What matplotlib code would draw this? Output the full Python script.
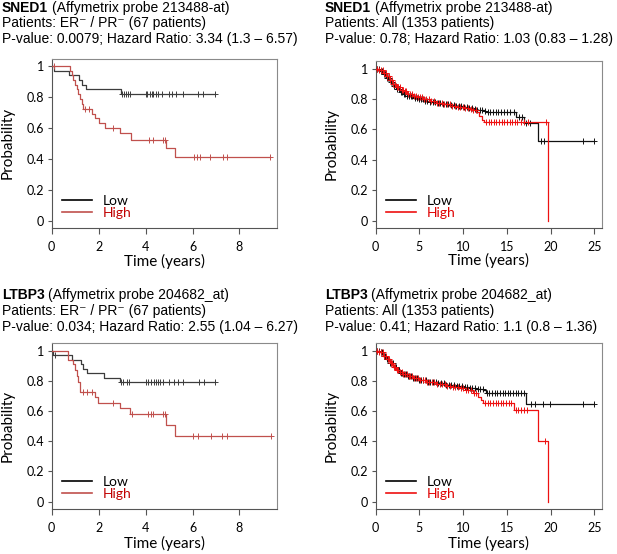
import numpy as np
import matplotlib
matplotlib.use('Agg')
import matplotlib.pyplot as plt
from matplotlib.lines import Line2D

# ---------------- data ----------------
# Panel A: SNED1, ER-/PR- (67 patients)
a_low_t = [0, 0.08, 0.75, 1.15, 1.30, 1.45, 2.96]
a_low_s = [1.0, 0.97, 0.94, 0.91, 0.88, 0.85, 0.82]
a_low_end = 6.97
a_low_cens = [2.99, 3.09, 3.18, 3.27, 3.35, 4.02, 4.08, 4.19, 4.26, 4.33, 4.45,
              4.55, 4.69, 5.01, 5.14, 5.30, 5.61, 6.25, 6.44, 6.97]
a_high_t = [0, 0.78, 0.85, 0.92, 0.99, 1.07, 1.13, 1.21, 1.28, 1.35, 1.71, 1.85,
            2.03, 2.27, 2.91, 3.37, 4.86, 5.26]
a_high_s = [1.0, 0.97, 0.94, 0.91, 0.88, 0.85, 0.82, 0.79, 0.755, 0.72, 0.69, 0.665,
            0.635, 0.60, 0.57, 0.525, 0.47, 0.41]
a_high_end = 9.31
a_high_cens = [0.10, 1.42, 1.60, 2.63, 4.16, 4.33, 4.76, 4.83, 6.08, 6.21, 6.32,
               6.75, 7.29, 7.46, 9.31]

# Panel B: SNED1, all (1353 patients)
b_low_t = [0, 0.4, 0.84, 1.2, 1.6, 2.0, 2.36, 2.8, 3.12, 3.6, 4.27, 4.8, 5.41, 6.2,
           6.93, 7.7, 8.46, 9.2, 9.98, 10.6, 11.1, 11.6, 12.08, 12.4, 12.6, 16.08,
           16.9, 18.57]
b_low_s = [1.0, 0.985, 0.963, 0.94, 0.91, 0.885, 0.865, 0.848, 0.835, 0.822, 0.808,
           0.798, 0.79, 0.782, 0.775, 0.768, 0.762, 0.755, 0.748, 0.742, 0.736,
           0.731, 0.726, 0.72, 0.712, 0.68, 0.64, 0.525]
b_low_end = 25.0
b_low_cens = [0.15, 0.35, 0.55, 0.7, 0.9, 1.05, 1.25, 1.4, 1.55, 1.75, 1.9, 2.1,
              2.3, 2.45, 2.65, 2.85, 3.0, 3.2, 3.4, 3.6, 3.8, 4.0, 4.2, 4.45, 4.7,
              4.9, 5.15, 5.4, 5.65, 5.9, 6.2, 6.5, 6.8, 7.1, 7.4, 7.7, 8.0, 8.3,
              8.6, 8.9, 9.2, 9.5, 9.8, 10.1, 10.4, 10.7, 11.0, 11.3, 11.6, 11.9,
              12.2, 12.5, 12.8, 13.1, 13.4, 13.7, 14.0, 14.3, 14.7, 15.0, 15.4,
              15.8, 16.4, 16.7, 17.2, 17.6, 18.9, 19.2, 23.7, 25.0]
b_high_t = [0, 0.4, 0.84, 1.2, 1.6, 2.0, 2.36, 2.8, 3.12, 3.6, 4.27, 4.8, 5.41, 6.2,
            6.93, 7.7, 8.46, 9.2, 9.98, 10.6, 11.1, 11.5, 11.8, 12.1, 12.4, 19.65]
b_high_s = [1.0, 0.99, 0.97, 0.95, 0.925, 0.90, 0.88, 0.862, 0.85, 0.835, 0.82,
            0.812, 0.80, 0.788, 0.776, 0.765, 0.756, 0.75, 0.742, 0.735, 0.727,
            0.713, 0.69, 0.665, 0.648, 0.0]
b_high_cens = [0.2, 0.4, 0.6, 0.8, 0.95, 1.15, 1.3, 1.5, 1.65, 1.85, 2.0, 2.2, 2.4,
               2.55, 2.75, 2.95, 3.1, 3.3, 3.5, 3.7, 3.9, 4.1, 4.35, 4.6, 4.8,
               5.05, 5.3, 5.55, 5.8, 6.05, 6.35, 6.65, 6.95, 7.25, 7.55, 7.85,
               8.15, 8.45, 8.75, 9.05, 9.35, 9.65, 9.95, 10.25, 10.55, 10.85, 11.15,
               11.45, 12.6, 12.9, 13.2, 13.5, 13.8, 14.1, 14.4, 14.7, 15.0, 15.3,
               15.6, 15.9, 16.2, 16.6, 17.0, 17.4, 19.5]

# Panel C: LTBP3, ER-/PR- (67 patients)
c_low_t = [0, 0.07, 0.85, 1.25, 1.32, 1.49, 2.23, 2.89]
c_low_s = [1.0, 0.97, 0.94, 0.91, 0.88, 0.85, 0.82, 0.79]
c_low_end = 6.97
c_low_cens = [0.15, 2.94, 3.05, 3.20, 3.31, 4.01, 4.12, 4.22, 4.34, 4.43, 4.52,
              4.62, 4.73, 4.98, 5.19, 5.37, 5.61, 6.28, 6.47, 6.97]
c_high_t = [0, 0.71, 0.92, 1.00, 1.07, 1.13, 1.20, 1.85, 1.99, 2.91, 3.34, 4.86, 5.26]
c_high_s = [1.0, 0.94, 0.91, 0.87, 0.83, 0.79, 0.725, 0.69, 0.655, 0.62, 0.58,
            0.51, 0.435]
c_high_end = 9.34
c_high_cens = [1.35, 1.49, 1.71, 2.63, 3.41, 4.12, 4.22, 4.31, 4.76, 4.83, 6.04,
               6.25, 6.78, 7.25, 7.46, 9.34]

# Panel D: LTBP3, all (1353 patients)
d_low_t = [0, 0.4, 0.84, 1.2, 1.6, 2.0, 2.36, 2.8, 3.12, 3.6, 4.27, 5.0, 5.8, 6.93,
           8.0, 9.2, 10.0, 10.7, 11.5, 12.3, 12.6, 17.15]
d_low_s = [1.0, 0.988, 0.966, 0.945, 0.915, 0.89, 0.87, 0.853, 0.843, 0.832, 0.818,
           0.807, 0.795, 0.783, 0.773, 0.764, 0.758, 0.753, 0.745, 0.736, 0.716,
           0.644]
d_low_end = 25.0
d_low_cens = [0.15, 0.35, 0.55, 0.75, 0.9, 1.1, 1.25, 1.45, 1.6, 1.8, 1.95, 2.15,
              2.35, 2.5, 2.7, 2.9, 3.05, 3.25, 3.45, 3.65, 3.85, 4.05, 4.3, 4.5,
              4.75, 5.0, 5.2, 5.45, 5.7, 5.95, 6.25, 6.55, 6.85, 7.15, 7.45, 7.75,
              8.05, 8.35, 8.65, 8.95, 9.25, 9.55, 9.85, 10.15, 10.45, 10.75, 11.05,
              11.35, 11.65, 11.95, 12.25, 12.7, 13.0, 13.3, 13.6, 13.9, 14.2, 14.5,
              14.8, 15.1, 15.4, 15.7, 16.0, 16.3, 16.6, 16.9, 17.8, 18.2, 19.1,
              19.9, 23.7, 25.0]
d_high_t = [0, 0.4, 0.84, 1.2, 1.6, 2.0, 2.36, 2.8, 3.12, 3.6, 4.27, 5.0, 5.8, 6.93,
            8.0, 8.8, 9.5, 10.3, 11.1, 11.7, 12.0, 12.3, 15.8, 18.55, 19.65]
d_high_s = [1.0, 0.99, 0.967, 0.946, 0.918, 0.893, 0.873, 0.857, 0.845, 0.834, 0.82,
            0.806, 0.792, 0.778, 0.766, 0.758, 0.75, 0.738, 0.717, 0.695, 0.67,
            0.65, 0.61, 0.40, 0.0]
d_high_cens = [0.2, 0.4, 0.6, 0.8, 1.0, 1.15, 1.35, 1.5, 1.7, 1.85, 2.05, 2.25, 2.4,
               2.6, 2.8, 3.0, 3.15, 3.35, 3.55, 3.75, 3.95, 4.15, 4.4, 4.6, 4.85,
               5.1, 5.35, 5.6, 5.85, 6.1, 6.4, 6.7, 7.0, 7.3, 7.6, 7.9, 8.2, 8.5,
               8.8, 9.1, 9.4, 9.7, 10.0, 10.3, 10.6, 10.9, 11.2, 11.5, 12.5, 12.8,
               13.1, 13.4, 13.7, 14.0, 14.3, 14.6, 14.9, 15.2, 15.5, 16.0, 16.3,
               16.6, 17.0, 17.3, 19.3]

titles_gene = ['SNED1', 'SNED1', 'LTBP3', 'LTBP3']
titles_probe = ['(Affymetrix probe 213488-at)', '(Affymetrix probe 213488-at)',
                '(Affymetrix probe 204682_at)', '(Affymetrix probe 204682_at)']
titles_patients = ['Patients: ER\u207b / PR\u207b (67 patients)', 'Patients: All (1353 patients)',
                   'Patients: ER\u207b / PR\u207b (67 patients)', 'Patients: All (1353 patients)']
titles_stats = ['P-value: 0.0079; Hazard Ratio: 3.34 (1.3 \u2013 6.57)',
                'P-value: 0.78; Hazard Ratio: 1.03 (0.83 \u2013 1.28)',
                'P-value: 0.034; Hazard Ratio: 2.55 (1.04 \u2013 6.27)',
                'P-value: 0.41; Hazard Ratio: 1.1 (0.8 \u2013 1.36)']
legend_labels = ['Low', 'High']

# ---------------- drawing ----------------
W, H = 617, 554
fig = plt.figure(figsize=(W / 100, H / 100), dpi=100)

TFONT = ['Liberation Sans', 'DejaVu Sans']
AFONT = ['Lato', 'DejaVu Sans']
TSIZE = 10.0


def step_value(t_ev, s_ev, t):
    idx = np.searchsorted(np.asarray(t_ev), np.asarray(t), side='right') - 1
    return np.asarray(s_ev)[idx]


def draw_km(ax, t_ev, s_ev, end, cens, color, lw=0.9, ms=4.5):
    t = list(t_ev) + ([end] if end is not None else [])
    s = list(s_ev) + ([s_ev[-1]] if end is not None else [])
    ax.plot(t, s, drawstyle='steps-post', color=color, lw=lw, zorder=3)
    cy = step_value(t_ev, s_ev, cens)
    ax.plot(cens, cy, ls='none', marker='+', color=color, ms=ms, mew=0.7, zorder=3)


def px_axes(left, right, top, bottom):
    return fig.add_axes([left / W, 1 - bottom / H, (right - left) / W, (bottom - top) / H])


def setup(ax, xmax, xticks, low_col, high_col, legend_text_col, ylab_x, xlab_y):
    ax.set_xlim(0, xmax)
    ax.set_ylim(-0.045, 1.05)
    ax.set_xticks(xticks)
    ax.set_xticklabels([str(v) for v in xticks], family=AFONT, fontsize=9)
    ax.set_yticks([0, 0.2, 0.4, 0.6, 0.8, 1.0])
    ax.set_yticklabels(['0', '0.2', '0.4', '0.6', '0.8', '1'], family=AFONT, fontsize=9)
    for name, sp in ax.spines.items():
        sp.set_linewidth(0.8)
        sp.set_color('#8a8a8a' if name in ('top', 'right') else '#555555')
    ax.tick_params(axis='both', direction='out', length=3, width=0.8,
                   color='#555555', pad=2.5)
    ax.tick_params(axis='x', length=4, pad=6)
    ax.set_xlabel('Time (years)', family=AFONT, fontsize=11)
    ax.set_ylabel('Probability', family=AFONT, fontsize=11)
    ax.yaxis.set_label_coords(ylab_x, 0.5)
    ax.xaxis.set_label_coords(0.5, xlab_y)
    handles = [Line2D([], [], color=low_col, lw=1.2), Line2D([], [], color=high_col, lw=1.2)]
    ax.legend(handles, legend_labels, loc='lower left', bbox_to_anchor=(0.045, 0.05),
              frameon=False, prop={'family': AFONT, 'size': 10}, handlelength=2.15,
              handletextpad=0.8, labelspacing=0.0, borderaxespad=0, borderpad=0,
              labelcolor=['black', legend_text_col])


renderer = fig.canvas.get_renderer()


def title_block(x, ys, i):
    t1 = fig.text(x / W, 1 - ys[0] / H, titles_gene[i], fontweight='bold',
                  family=TFONT, fontsize=TSIZE, va='center', ha='left')
    bb = t1.get_window_extent(renderer=renderer)
    fig.text((bb.x1 + 3.5) / W, 1 - ys[0] / H, titles_probe[i], family=TFONT,
             fontsize=TSIZE, va='center', ha='left')
    fig.text(x / W, 1 - ys[1] / H, titles_patients[i], family=TFONT, fontsize=TSIZE,
             va='center', ha='left')
    fig.text(x / W, 1 - ys[2] / H, titles_stats[i], family=TFONT, fontsize=TSIZE,
             va='center', ha='left')


dark_red = '#c0504d'
bright_red = '#ee1111'

# Panel A
axA = px_axes(51.7, 277, 58.5, 227.5)
draw_km(axA, a_low_t, a_low_s, a_low_end, a_low_cens, '#3c3c3c')
draw_km(axA, a_high_t, a_high_s, a_high_end, a_high_cens, dark_red)
setup(axA, 9.6, [0, 2, 4, 6, 8], 'black', dark_red, '#c00000', -0.165, -0.155)

# Panel B
axB = px_axes(375.7, 602.3, 61, 227.5)
draw_km(axB, b_low_t, b_low_s, b_low_end, b_low_cens, '#111111')
draw_km(axB, b_high_t, b_high_s, None, b_high_cens, bright_red)
setup(axB, 25.9, [0, 5, 10, 15, 20, 25], 'black', bright_red, '#e00000', -0.165, -0.155)

# Panel C
axC = px_axes(51.7, 277, 343, 508.5)
draw_km(axC, c_low_t, c_low_s, c_low_end, c_low_cens, '#3c3c3c')
draw_km(axC, c_high_t, c_high_s, c_high_end, c_high_cens, dark_red)
setup(axC, 9.6, [0, 2, 4, 6, 8], 'black', dark_red, '#c00000', -0.165, -0.165)

# Panel D
axD = px_axes(375.7, 602.3, 343, 508.5)
draw_km(axD, d_low_t, d_low_s, d_low_end, d_low_cens, '#111111')
draw_km(axD, d_high_t, d_high_s, None, d_high_cens, bright_red)
setup(axD, 25.9, [0, 5, 10, 15, 20, 25], 'black', bright_red, '#e00000', -0.165, -0.165)

title_block(2, (8.3, 23.5, 39.5), 0)
title_block(325, (8.3, 23.5, 39.5), 1)
title_block(2, (295, 311, 327), 2)
title_block(325, (295, 311, 327), 3)

fig.savefig('out.png', dpi=100)
